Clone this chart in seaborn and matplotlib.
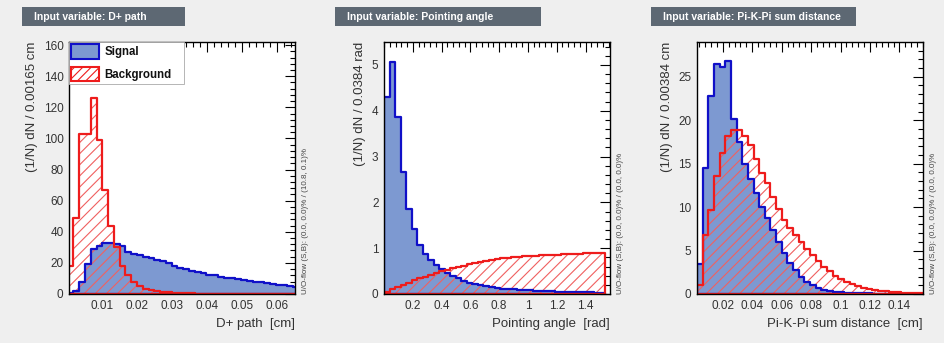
import numpy as np
import pandas as pd
import matplotlib
matplotlib.use("Agg")
import matplotlib.pyplot as plt
import seaborn as sns
from matplotlib.patches import Patch, Rectangle
from matplotlib.ticker import MultipleLocator, FixedLocator

sns.set_theme(style="white")
plt.rcParams['font.family'] = ['Liberation Sans', 'DejaVu Sans']
plt.rcParams['hatch.linewidth'] = 0.8

# ---------------- data ----------------
# Panel 1: D+ path [cm], 40 bins of 0.00165
path_range = (0.0001, 0.0661)
path_sig = [0.5, 2, 8, 19, 29, 31, 33, 33, 32, 31,
            27, 26, 25, 24, 23, 22, 21, 20, 18, 17,
            16, 15, 14, 13.5, 12.5, 12, 11, 10.5, 10, 9.5,
            9, 8.5, 8, 7.5, 7, 6.5, 6, 5.5, 5, 4.5]
path_bkg = [18, 49, 103, 103, 126, 99, 67, 44, 30, 18,
            12, 8, 5, 3.5, 2.5, 1.8, 1.3, 1.0, 0.8, 0.6,
            0.5, 0.4, 0.3, 0.3, 0.2, 0.2, 0.2, 0.1, 0.1, 0.1,
            0.1, 0.1, 0.05, 0.05, 0.05, 0.05, 0.05, 0.05, 0.05, 0.05]

# Panel 2: Pointing angle [rad], 40 bins of 0.0384
angle_range = (0.0, 1.536)
angle_sig = [4.31, 5.06, 3.86, 2.66, 1.86, 1.42, 1.08, 0.88, 0.74, 0.63,
             0.54, 0.46, 0.40, 0.34, 0.29, 0.25, 0.22, 0.19, 0.17, 0.15,
             0.13, 0.12, 0.11, 0.10, 0.09, 0.08, 0.08, 0.07, 0.07, 0.06,
             0.06, 0.05, 0.05, 0.05, 0.04, 0.04, 0.04, 0.04, 0.03, 0.03]
angle_bkg = [0.05, 0.10, 0.15, 0.20, 0.25, 0.30, 0.34, 0.38, 0.42, 0.46,
             0.50, 0.53, 0.56, 0.59, 0.62, 0.65, 0.68, 0.70, 0.72, 0.74,
             0.76, 0.78, 0.79, 0.80, 0.81, 0.82, 0.83, 0.84, 0.85, 0.85,
             0.86, 0.86, 0.87, 0.87, 0.88, 0.88, 0.89, 0.89, 0.90, 0.90]

# Panel 3: Pi-K-Pi sum distance [cm], 40 bins of 0.00384
dist_range = (0.0025, 0.1561)
dist_sig = [3.5, 14.5, 22.8, 26.5, 26.1, 26.8, 20.1, 17.5, 15.0, 13.2,
            11.6, 10.0, 8.8, 7.4, 6.0, 4.7, 3.6, 2.8, 2.0, 1.4,
            1.0, 0.7, 0.5, 0.35, 0.25, 0.2, 0.15, 0.1, 0.1, 0.08,
            0.06, 0.05, 0.04, 0.03, 0.03, 0.02, 0.02, 0.02, 0.01, 0.01]
dist_bkg = [1.0, 6.8, 9.7, 13.6, 16.2, 18.2, 18.9, 18.9, 18.2, 17.2,
            15.5, 13.9, 12.8, 11.2, 9.8, 8.5, 7.6, 6.8, 6.0, 5.2,
            4.5, 3.8, 3.1, 2.6, 2.1, 1.7, 1.4, 1.1, 0.9, 0.7,
            0.55, 0.45, 0.35, 0.3, 0.25, 0.2, 0.15, 0.12, 0.1, 0.1]

titles = ["Input variable: D+ path",
          "Input variable: Pointing angle",
          "Input variable: Pi-K-Pi sum distance"]
xlabels = ["D+ path  [cm]", "Pointing angle  [rad]", "Pi-K-Pi sum distance  [cm]"]
ylabels = ["(1/N) dN / 0.00165 cm", "(1/N) dN / 0.0384 rad", "(1/N) dN / 0.00384 cm"]
flow_texts = ["U/O-flow (S,B): (0.0, 0.0)% / (10.8, 0.1)%",
              "U/O-flow (S,B): (0.0, 0.0)% / (0.0, 0.0)%",
              "U/O-flow (S,B): (0.0, 0.0)% / (0.0, 0.0)%"]

# ---------------- style ----------------
SIG_FILL = "#7d99d1"
SIG_LINE = "#1010c8"
BKG_LINE = "#ee1c1c"
BKG_HATCH = "#f06060"
TITLE_BG = "#5d6873"
FIG_BG = "#efefef"

fig = plt.figure(figsize=(9.44, 3.43), dpi=100, facecolor=FIG_BG)
W, H = 944.0, 343.0
ax_lefts = [69, 384, 697]
ax_w = 226
ax_top, ax_bot = 42, 294

panels = [
    (path_range, path_sig, path_bkg, (0.0005, 0.065), (0, 162),
     0.002, 20, 4, [0.01, 0.02, 0.03, 0.04, 0.05, 0.06], ["0.01", "0.02", "0.03", "0.04", "0.05", "0.06"]),
    (angle_range, angle_sig, angle_bkg, (0.0, 1.57), (0, 5.5),
     0.04, 1, 0.2, [0.2, 0.4, 0.6, 0.8, 1.0, 1.2, 1.4], ["0.2", "0.4", "0.6", "0.8", "1", "1.2", "1.4"]),
    (dist_range, dist_sig, dist_bkg, (0.0025, 0.156), (0, 29),
     0.004, 5, 1, [0.02, 0.04, 0.06, 0.08, 0.10, 0.12, 0.14], ["0.02", "0.04", "0.06", "0.08", "0.1", "0.12", "0.14"]),
]

title_boxes = [(22, 185), (335, 541), (651, 856)]


def hist(ax, df, col, edges, color, **kws):
    sns.histplot(data=df, x="x", weights=col, bins=list(edges), element="step",
                 fill=True, ax=ax, color=color, **kws)


for i, (rng, sig, bkg, xlim, ylim, xminor, ymaj, yminor, xt, xtl) in enumerate(panels):
    left = ax_lefts[i]
    ax = fig.add_axes([left / W, 1 - ax_bot / H, ax_w / W, (ax_bot - ax_top) / H])
    ax.set_facecolor("white")
    n = len(sig)
    edges = np.linspace(rng[0], rng[1], n + 1)
    centers = 0.5 * (edges[:-1] + edges[1:])
    df = pd.DataFrame({"x": centers, "sig": sig, "bkg": bkg})

    hist(ax, df, "sig", edges, SIG_FILL, facecolor=SIG_FILL, edgecolor="none", linewidth=0, alpha=1)
    hist(ax, df, "bkg", edges, BKG_HATCH, facecolor="none", edgecolor=BKG_HATCH, linewidth=0, hatch="///")
    hist(ax, df, "sig", edges, SIG_LINE, facecolor="none", edgecolor=SIG_LINE, linewidth=1.6)
    hist(ax, df, "bkg", edges, BKG_LINE, facecolor="none", edgecolor=BKG_LINE, linewidth=1.6)

    ax.set_xlim(*xlim)
    ax.set_ylim(*ylim)
    ax.xaxis.set_major_locator(FixedLocator(xt))
    ax.set_xticklabels(xtl)
    ax.xaxis.set_minor_locator(MultipleLocator(xminor))
    ax.yaxis.set_major_locator(MultipleLocator(ymaj))
    ax.yaxis.set_minor_locator(MultipleLocator(yminor))
    ax.tick_params(which="both", direction="in", top=True, right=True,
                   colors="black", labelcolor="#333333", labelsize=8.5, width=0.8)
    ax.tick_params(which="major", length=7, pad=4)
    ax.tick_params(which="minor", length=3.5)
    for s in ax.spines.values():
        s.set_color("black")
        s.set_linewidth(1.0)

    ax.set_xlabel(xlabels[i], loc="right", fontsize=9.5, color="#333333", labelpad=5)
    ax.set_ylabel(ylabels[i], loc="top", fontsize=9.5, color="#333333", labelpad=4)

    ax.text(1.045, 0.0, flow_texts[i], transform=ax.transAxes, rotation=90,
            ha="center", va="bottom", fontsize=5.8, color="#444444")

    x0, x1 = title_boxes[i]
    fig.patches.append(Rectangle((x0 / W, 1 - 26 / H), (x1 - x0) / W, 19 / H,
                                 transform=fig.transFigure, facecolor=TITLE_BG,
                                 edgecolor="none"))
    fig.text((x0 + 12) / W, 1 - 16.5 / H, titles[i], color="white", fontsize=7.5,
             fontweight="bold", ha="left", va="center")

    if i == 0:
        handles = [Patch(facecolor=SIG_FILL, edgecolor=SIG_LINE, linewidth=1.5, label="Signal"),
                   Patch(facecolor="white", edgecolor=BKG_LINE, hatch="////", linewidth=1.5,
                         label="Background")]
        leg = ax.legend(handles=handles, loc="upper left", bbox_to_anchor=(0, 0, 0.509, 1),
                        mode="expand", borderaxespad=0, frameon=True, fancybox=False,
                        edgecolor="#aaaaaa", framealpha=1,
                        prop={"weight": "bold", "size": 8.3},
                        handlelength=2.4, handleheight=1.55, borderpad=0.2,
                        labelspacing=0.7, handletextpad=0.45)
        leg.get_frame().set_linewidth(0.6)
        for t in leg.get_texts():
            t.set_color("#111111")

fig.savefig("out.png", dpi=100, facecolor=FIG_BG)
